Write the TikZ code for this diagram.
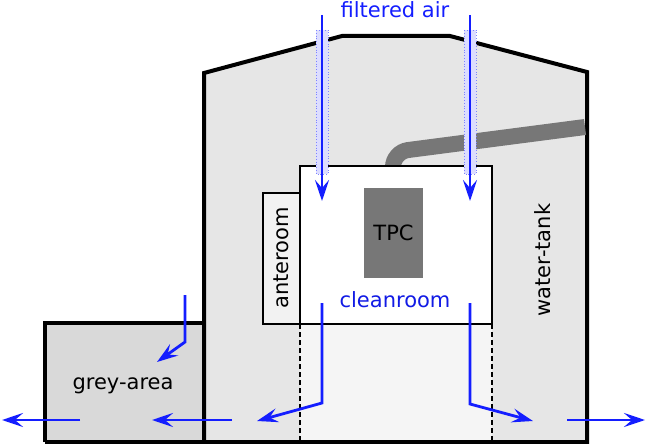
\documentclass[tikz,border=0pt]{standalone}
\usepackage{fontspec}
\setmainfont{DejaVu Sans}
\usetikzlibrary{arrows.meta}
\definecolor{airblue}{RGB}{20,30,255}
\definecolor{tankgrey}{RGB}{230,230,230}
\definecolor{greyarea}{RGB}{217,217,217}
\definecolor{tpcgrey}{RGB}{119,119,119}
\definecolor{lightfloor}{RGB}{245,245,245}
\definecolor{anteroomfill}{RGB}{242,242,242}
\tikzset{
  wall/.style={draw=black, line width=4pt, line join=miter},
  room/.style={draw=black, line width=2pt},
  flow/.style={draw=airblue, line width=2.8pt, -{Stealth[length=21pt,width=14pt,inset=8pt]}},
  duct/.style={fill=airblue!15, draw=airblue!55, dotted, line width=0.8pt},
  lbl/.style={font=\fontsize{21}{25}\selectfont, inner sep=0pt},
}
\begin{document}
\begin{tikzpicture}[x=1pt,y=-1pt]
\useasboundingbox (0,0) rectangle (648,444);
% water tank building
\path[fill=tankgrey] (204,442) -- (204,73) -- (342,36) -- (450,36) -- (587,72) -- (587,442) -- cycle;
% grey area
\path[fill=greyarea] (45,323) rectangle (204,442);
% floor below cleanroom
\path[fill=lightfloor] (300,324) rectangle (492,442);
\draw[dash pattern=on 5pt off 3pt, line width=1.8pt] (300,324) -- (300,442);
\draw[dash pattern=on 5pt off 3pt, line width=1.8pt] (492,324) -- (492,442);
% outlines
\draw[wall] (45,442) -- (45,323) -- (204,323);
\draw[wall] (45,442) -- (587,442) -- (587,72) -- (450,36) -- (342,36) -- (204,73) -- (204,442);
% pipe
\draw[tpcgrey, line width=16pt, rounded corners=15pt] (393,200) -- (393,152) -- (585,127);
% anteroom
\draw[room, fill=anteroomfill] (263,193) rectangle (300,324);
% cleanroom
\draw[room, fill=white] (300,166) rectangle (492,324);
% TPC
\node[fill=tpcgrey, minimum width=59pt, minimum height=90pt, inner sep=0pt] (tpc) at (393.5,233) {};
\node[lbl] at (tpc) {TPC};
% labels
\node[lbl, airblue] (fa) at (395,10) {filtered air};
\node[lbl, text=airblue!90!black] (cr) at (395,300) {cleanroom};
\node[lbl, rotate=90] (ar) at (281.5,258) {anteroom};
\node[lbl, rotate=90] (wt) at (543,260) {water-tank};
\node[lbl] (ga) at (123,386) {grey-area};
% ducts
\draw[duct] (316,30) rectangle (328,174);
\draw[duct] (464,30) rectangle (476,174);
% filtered air arrows
\coordinate (a1s) at (322,15); \coordinate (a1e) at (322,201);
\coordinate (a2s) at (470,15); \coordinate (a2e) at (470,201);
\draw[flow] (a1s) -- (a1e);
\draw[flow] (a2s) -- (a2e);
% outflow arrows
\coordinate (l1) at (322,303); \coordinate (l2) at (322,403); \coordinate (l3) at (257,421);
\draw[flow] (l1) -- (l2) -- (l3);
\coordinate (r1) at (470,303); \coordinate (r2) at (470,404); \coordinate (r3) at (533,421);
\draw[flow] (r1) -- (r2) -- (r3);
\coordinate (g1) at (185,295); \coordinate (g2) at (185,342); \coordinate (g3) at (157,362);
\draw[flow] (g1) -- (g2) -- (g3);
\coordinate (h1) at (232,420); \coordinate (h2) at (152,420);
\draw[flow] (h1) -- (h2);
\coordinate (h3) at (80,420); \coordinate (h4) at (2,420);
\draw[flow] (h3) -- (h4);
\coordinate (h5) at (567,420); \coordinate (h6) at (645,420);
\draw[flow] (h5) -- (h6);
\end{tikzpicture}
\end{document}
